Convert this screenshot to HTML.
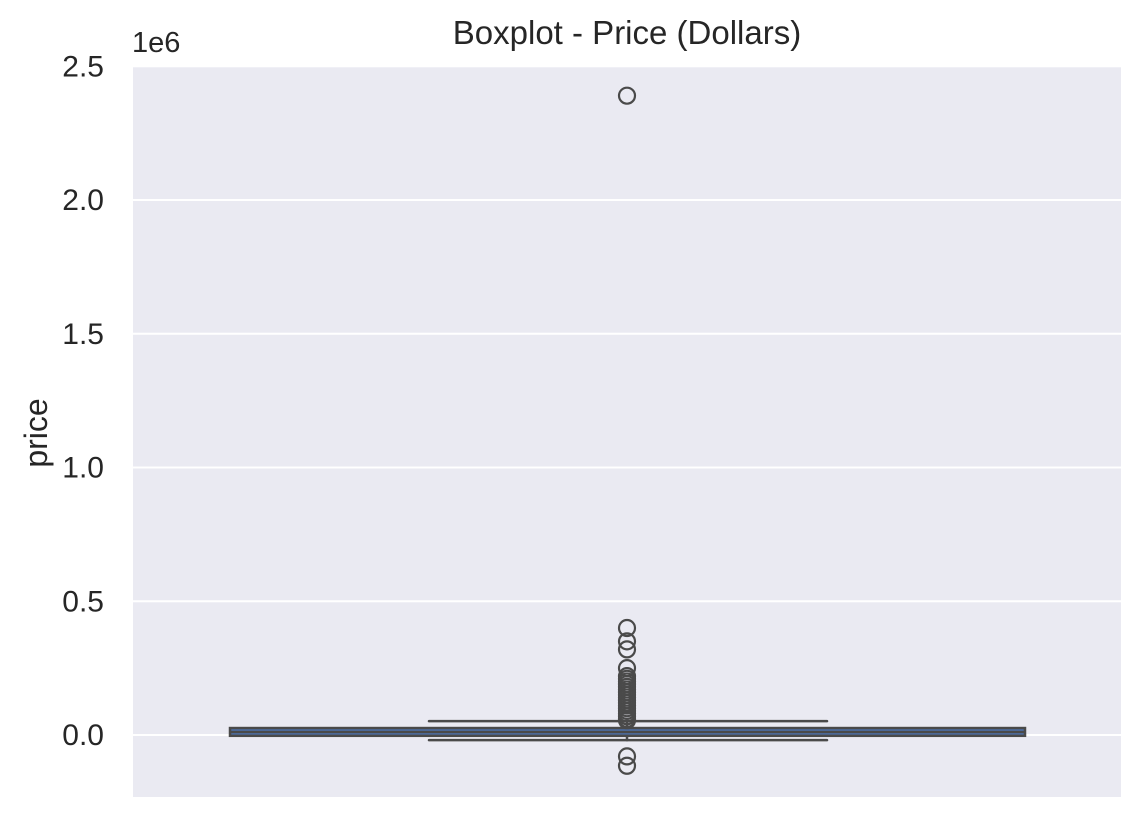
<!DOCTYPE html>
<html><head><meta charset="utf-8"><style>
body{margin:0;background:#fff;}
svg{display:block;font-family:"Liberation Sans",sans-serif;}
</style></head><body>
<svg id="chart" width="1143" height="820" xmlns="http://www.w3.org/2000/svg">
<rect x="133" y="67" width="988" height="730" fill="#eaeaf2"/>
<g id="grid"></g>
<g id="ticks"></g>
<g id="box"></g>
<text x="627" y="44" font-size="33" fill="#262626" text-anchor="middle">Boxplot - Price (Dollars)</text>
<text x="132" y="52" font-size="29" fill="#262626">1e6</text>
<text transform="translate(47,433) rotate(-90)" font-size="32" fill="#262626" text-anchor="middle">price</text>
</svg>
<script>
const yTicks = [0, 0.5, 1.0, 1.5, 2.0, 2.5];
const yTickLabels = ["0.0", "0.5", "1.0", "1.5", "2.0", "2.5"];
const q1 = [-0.003];
const median = [0.011];
const q3 = [0.026];
const whiskerLow = [-0.019];
const whiskerHigh = [0.052];
const outliers = [2.39, 0.40, 0.35, 0.32, 0.25, 0.22, 0.21, 0.20, 0.19, 0.18, 0.17, 0.16, 0.15, 0.14, 0.13, 0.12, 0.11, 0.10, 0.09, 0.08, 0.07, 0.06, 0.055, -0.08, -0.115];

const NS = "http://www.w3.org/2000/svg";
const y = v => 735 - v * 267.5;
const boxL = 230, boxR = 1025, cx = 627, whL = 429, whR = 827;
function mk(tag, attrs, parent) {
  const e = document.createElementNS(NS, tag);
  for (const k in attrs) e.setAttribute(k, attrs[k]);
  document.getElementById(parent).appendChild(e);
  return e;
}
yTicks.forEach((t, i) => {
  const g = mk("line", {x1: 133, x2: 1121, y1: y(t), y2: y(t), stroke: "#fff", "stroke-width": 2}, "grid");
  
  
  const tx = mk("text", {x: 104, y: y(t) + 10, "font-size": 30, fill: "#262626", "text-anchor": "end"}, "ticks");
  tx.textContent = yTickLabels[i];
  
  
});
const st = {stroke: "#4a4a4a", "stroke-width": 2.5, "stroke-linecap": "round"};
const w1 = mk("line", Object.assign({x1: cx, x2: cx, y1: y(q3[0]), y2: y(whiskerHigh[0])}, st), "box");


const w2 = mk("line", Object.assign({x1: cx, x2: cx, y1: y(q1[0]), y2: y(whiskerLow[0])}, st), "box");


const c1 = mk("line", Object.assign({x1: whL, x2: whR, y1: y(whiskerHigh[0]), y2: y(whiskerHigh[0])}, st), "box");


const c2 = mk("line", Object.assign({x1: whL, x2: whR, y1: y(whiskerLow[0]), y2: y(whiskerLow[0])}, st), "box");


const bx = mk("rect", {x: boxL, y: y(q3[0]), width: boxR - boxL, height: y(q1[0]) - y(q3[0]), fill: "#4c72b0", stroke: "#4a4a4a", "stroke-width": 2.5}, "box");


const md = mk("line", {x1: boxL, x2: boxR, y1: y(median[0]), y2: y(median[0]), stroke: "#4a4a4a", "stroke-width": 2.5}, "box");


outliers.forEach(v => {
  const c = mk("circle", {cx: cx, cy: y(v), r: 8, fill: "none", stroke: "#4a4a4a", "stroke-width": 2.2}, "box");
  
  
});
</script>
</body></html>
